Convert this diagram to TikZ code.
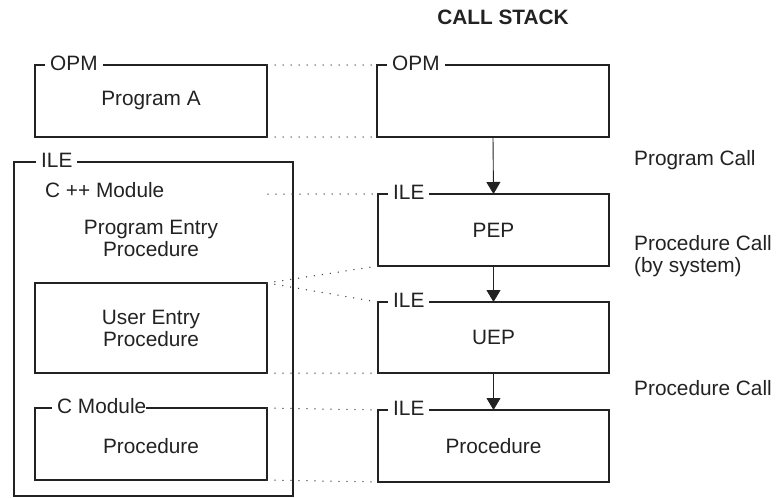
\documentclass[tikz,border=0pt]{standalone}
\usepackage{fontspec}
\setmainfont{Liberation Sans}
\usetikzlibrary{arrows.meta}
\definecolor{ink}{HTML}{222222}
\definecolor{dotc}{HTML}{444444}
\begin{document}
\begin{tikzpicture}[x=1pt,y=-1pt,
  every node/.style={font=\fontsize{20.8}{24}\selectfont, text=ink},
  box/.style={draw=ink, line width=1.5pt, rectangle, inner sep=0pt, outer sep=0pt,
              minimum width=232pt, minimum height=72pt},
  tag/.style={anchor=west, fill=white, inner xsep=5pt, inner ysep=1pt, xshift=10pt, yshift=2pt},
  dots/.style={draw=dotc, line width=1.5pt, line cap=round, dash pattern=on 0pt off 8pt},
  call/.style={draw=ink, line width=0.9pt, -{Triangle[width=14pt,length=12pt]}},
  plain/.style={inner sep=0pt, align=center}
]
\useasboundingbox (0,0) rectangle (777,498);

% left side
\node[box] (progA) at (151,101) {Program A};
\node[box, line width=2.4pt, minimum width=279pt, minimum height=334pt] (ile) at (153.5,329) {};
\node[box, minimum height=90pt, align=center] (uepL) at (151,328) {User Entry\\[-2pt]Procedure};
\node[box] (cmod) at (151,444) {};
\node[plain] (procL) at (151,446) {Procedure};

\node[tag] (tOPM) at (progA.north west) {OPM};
\node[tag, xshift=12pt] (tILE) at (ile.north west) {ILE};
\node[tag, inner xsep=0pt, xshift=7pt] (tCM) at (cmod.north west) {\hspace*{5pt}C Module};

\node[plain, anchor=west] (cpp) at (45,190) {C ++ Module};
\node[plain] (pepL) at (151,238) {Program Entry\\[-2pt]Procedure};

% right side (call stack)
\node[font=\bfseries\fontsize{20.8}{24}\selectfont] (title) at (503,17) {CALL STACK};
\node[box] (opmR) at (493,101) {};
\node[box, minimum width=231pt] (pep) at (493.5,230) {PEP};
\node[box, minimum width=231pt, minimum height=71pt] (uep) at (493.5,337.5) {UEP};
\node[box, minimum width=231pt] (procR) at (493.5,446) {Procedure};

\node[tag] (tOPMr) at (opmR.north west) {OPM};
\node[tag] (tILE1) at (pep.north west) {ILE};
\node[tag] (tILE2) at (uep.north west) {ILE};
\node[tag] (tILE3) at (procR.north west) {ILE};

% call arrows
\draw[call] (opmR.south) -- (pep.north);
\draw[call] (pep.south) -- (uep.north);
\draw[call] (uep.south) -- (procR.north);

% call labels
\node[plain, anchor=west] (pc1) at (634,160) {Program Call};
\node[plain, anchor=west, align=left] (pc2) at (634,256) {Procedure Call\\[-2pt](by system)};
\node[plain, anchor=west] (pc3) at (634,388) {Procedure Call};

% dotted correspondence lines
\coordinate (cppEnd) at (268,194);
\draw[dots] (progA.north east) -- (opmR.north west);
\draw[dots] (progA.south east) -- (opmR.south west);
\draw[dots] (cppEnd) -- (pep.north west);
\draw[dots] (uepL.north east) -- (pep.south west);
\draw[dots] (uepL.north east) -- (uep.north west);
\draw[dots] (uepL.south east) -- (uep.south west);
\draw[dots] (cmod.north east) -- (procR.north west);
\draw[dots] (cmod.south east) -- (procR.south west);
\end{tikzpicture}
\end{document}
